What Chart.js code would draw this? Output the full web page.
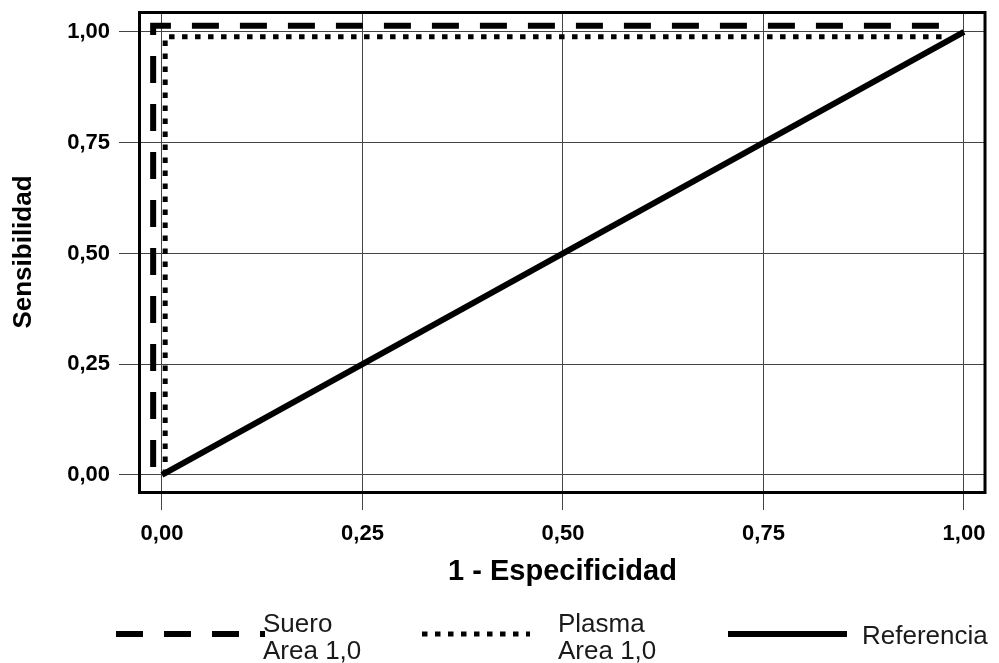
<!DOCTYPE html>
<html><head><meta charset="utf-8">
<script src="https://cdn.jsdelivr.net/npm/chart.js@4/dist/chart.umd.min.js"></script>
<style>html,body{margin:0;padding:0;background:#fff}#wrap{width:999px;height:663px}</style>
</head><body><div id="wrap"><canvas id="c" width="999" height="663"></canvas></div>
<script>
// ---- data ----
const seriesLabels = ['Suero\nArea 1,0', 'Plasma\nArea 1,0', 'Referencia'];
const sueroX = [-0.011, -0.011, 0.985];
const sueroY = [0.018, 1.014, 1.014];
const plasmaX = [0.004, 0.004, 0.98];
const plasmaY = [0.0, 0.989, 0.989];
const refX = [0, 1];
const refY = [0, 1];
const xTicks = [0, 0.25, 0.5, 0.75, 1];
const yTicks = [0, 0.25, 0.5, 0.75, 1];
const xTitle = '1 - Especificidad';
const yTitle = 'Sensibilidad';

const pts = (xs, ys) => xs.map((x, i) => ({x: x, y: ys[i]}));
const fmt = v => Number(v).toFixed(2).replace('.', ',');
const FONT = "'Liberation Sans', Arial, sans-serif";

const frame = {
  id: 'frame',
  afterDatasetsDraw(chart) {
    const a = chart.chartArea, ctx = chart.ctx;
    ctx.save();
    ctx.strokeStyle = '#000';
    ctx.lineWidth = 3;
    ctx.strokeRect(a.left - 0.5, a.top + 0.5, a.right - a.left + 0.5, a.bottom - a.top);
    ctx.restore();
  }
};

const legendBox = {
  id: 'legendBox',
  afterDraw(chart) {
    const ctx = chart.ctx;
    const sx = [116, 422, 728], len = [149, 108, 119], tx = [263, 558, 862];
    const ly = 634;
    chart.data.datasets.forEach((ds, i) => {
      ctx.save();
      ctx.strokeStyle = ds.borderColor;
      ctx.lineWidth = ds.borderWidth;
      ctx.setLineDash(ds.borderDash || []);
      ctx.lineCap = 'butt';
      ctx.beginPath();
      ctx.moveTo(sx[i], ly);
      ctx.lineTo(sx[i] + len[i], ly);
      ctx.stroke();
      ctx.setLineDash([]);
      ctx.fillStyle = '#1a1a1a';
      ctx.font = '26px ' + FONT;
      ctx.textBaseline = 'alphabetic';
      ctx.textAlign = 'left';
      const lines = ds.label.split('\n');
      if (lines.length === 1) {
        ctx.fillText(lines[0], tx[i], 644);
      } else {
        lines.forEach((t, k) => ctx.fillText(t, tx[i], 632 + k * 27));
      }
      ctx.restore();
    });
  }
};

new Chart(document.getElementById('c'), {
  type: 'scatter',
  data: {
    datasets: [
      {label: seriesLabels[0], data: pts(sueroX, sueroY), showLine: true, pointRadius: 0,
       borderColor: '#000', borderWidth: 6, borderDash: [27, 21], borderCapStyle: 'butt', borderJoinStyle: 'miter', tension: 0},
      {label: seriesLabels[1], data: pts(plasmaX, plasmaY), showLine: true, pointRadius: 0,
       borderColor: '#000', borderWidth: 5, borderDash: [5.5, 7.5], borderCapStyle: 'butt', borderJoinStyle: 'miter', tension: 0},
      {label: seriesLabels[2], data: pts(refX, refY), showLine: true, pointRadius: 0,
       borderColor: '#000', borderWidth: 6, borderCapStyle: 'butt', tension: 0}
    ]
  },
  options: {
    responsive: false,
    animation: false,
    devicePixelRatio: 1,
    layout: {padding: {top: 12, right: 14, bottom: 71, left: 0}},
    plugins: {legend: {display: false}, tooltip: {enabled: false}},
    scales: {
      x: {
        type: 'linear', min: -0.0274, max: 1.0262,
        afterBuildTicks: s => { s.ticks = xTicks.map(v => ({value: v})); },
        afterFit: s => { s.height = 100; s.paddingLeft = 0; s.paddingRight = 0; },
        grid: {color: '#444', lineWidth: 1, tickLength: 18, drawTicks: true},
        border: {display: false},
        ticks: {color: '#000', font: {family: FONT, size: 22, weight: 'bold'}, padding: 11, maxRotation: 0,
                callback: v => fmt(v)},
        title: {display: true, text: xTitle, color: '#000', font: {family: FONT, size: 29, weight: 'bold'}, padding: {top: 0, bottom: 3}}
      },
      y: {
        type: 'linear', min: -0.0384, max: 1.0451,
        afterBuildTicks: s => { s.ticks = yTicks.map(v => ({value: v})); },
        afterFit: s => { s.width = 140; s.paddingTop = 0; s.paddingBottom = 0; },
        grid: {color: '#444', lineWidth: 1, tickLength: 21, drawTicks: true},
        border: {display: false},
        ticks: {color: '#000', font: {family: FONT, size: 22, weight: 'bold'}, padding: 9,
                callback: v => fmt(v)},
        title: {display: true, text: yTitle, color: '#000', font: {family: FONT, size: 26, weight: 'bold'}, padding: {top: 8, bottom: 0}}
      }
    }
  },
  plugins: [frame, legendBox]
});
</script>
</body></html>
